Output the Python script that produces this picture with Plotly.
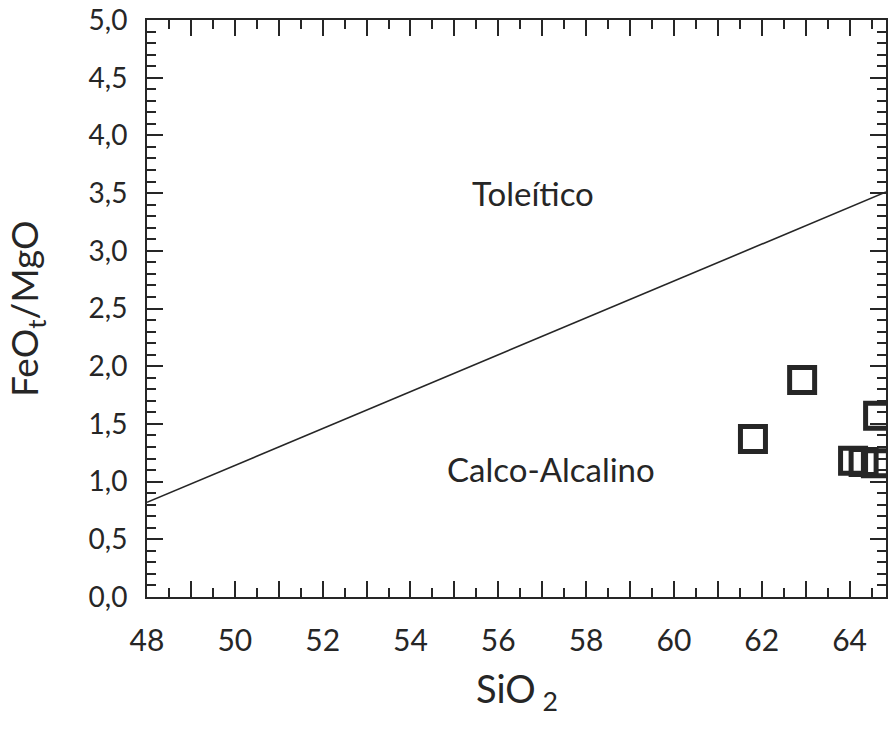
import plotly.graph_objects as go

# Sample data (SiO2 vs FeOt/MgO)
sio2 = [61.8, 62.92, 64.65, 64.08, 64.32, 64.6]
feo_mgo = [1.37, 1.88, 1.57, 1.18, 1.17, 1.16]

# Tholeiitic / calc-alkaline boundary (endpoints)
line_x = [48.0, 64.83]
line_y = [0.82, 3.51]

x_major = list(range(48, 65))
x_labels = [str(v) if v % 2 == 0 else "" for v in x_major]

field_labels = ["Toleítico", "Calco-Alcalino"]
field_x = [56.8, 57.2]
field_y = [3.5, 1.11]

x_title = "SiO<sub> 2</sub>"
y_title = "FeO<sub>t</sub>/MgO"

FONT = "Lato, 'Open Sans', sans-serif"
INK = "#262626"

fig = go.Figure()
fig.add_trace(go.Scatter(x=line_x, y=line_y, mode="lines",
                         line=dict(color=INK, width=1.6), showlegend=False))
fig.add_trace(go.Scatter(x=sio2, y=feo_mgo, mode="markers",
                         marker=dict(symbol="square-open", size=25,
                                     color=INK, line=dict(color=INK, width=5)),
                         cliponaxis=False, showlegend=False))

for t, x, y in zip(field_labels, field_x, field_y):
    fig.add_annotation(x=x, y=y, text=t, showarrow=False,
                       font=dict(family=FONT, size=33, color=INK))

# axis titles as paper-anchored annotations
fig.add_annotation(xref="paper", yref="paper", x=0.5, y=-0.163, text=x_title,
                   showarrow=False, xanchor="center", yanchor="middle",
                   font=dict(family=FONT, size=38, color=INK))
fig.add_annotation(xref="paper", yref="paper", x=-0.163, y=0.50, text=y_title,
                   showarrow=False, xanchor="center", yanchor="middle", textangle=-90,
                   font=dict(family=FONT, size=37, color=INK))

# page body has an 8px margin, so the figure is shrunk/shifted accordingly
fig.update_layout(
    width=880, height=713,
    margin=dict(l=139, r=2, t=12, b=124, autoexpand=False),
    paper_bgcolor="white", plot_bgcolor="white",
    separators=",.",
    font=dict(family=FONT, color=INK),
)
fig.update_xaxes(
    range=[48, 64.83], showgrid=False, zeroline=False, automargin=False,
    showline=True, linecolor=INK, linewidth=2, mirror="ticks",
    tickmode="array", tickvals=x_major, ticktext=x_labels,
    ticks="inside", ticklen=16, tickwidth=1.6, tickcolor=INK,
    ticklabelstandoff=16, ticklabeloverflow="allow",
    tickfont=dict(size=30, family=FONT),
    minor=dict(dtick=0.5, ticks="inside", ticklen=9, tickwidth=1.6, tickcolor=INK, showgrid=False),
)
fig.update_yaxes(
    range=[0, 5], showgrid=False, zeroline=False, automargin=False,
    showline=True, linecolor=INK, linewidth=2, mirror="ticks",
    dtick=0.5, tickformat=".1f",
    ticks="inside", ticklen=16, tickwidth=1.6, tickcolor=INK,
    ticklabelstandoff=12, ticklabeloverflow="allow",
    tickfont=dict(size=28, family=FONT),
    minor=dict(dtick=0.1, ticks="inside", ticklen=9, tickwidth=1.6, tickcolor=INK, showgrid=False),
)

fig.write_html("out.html")
